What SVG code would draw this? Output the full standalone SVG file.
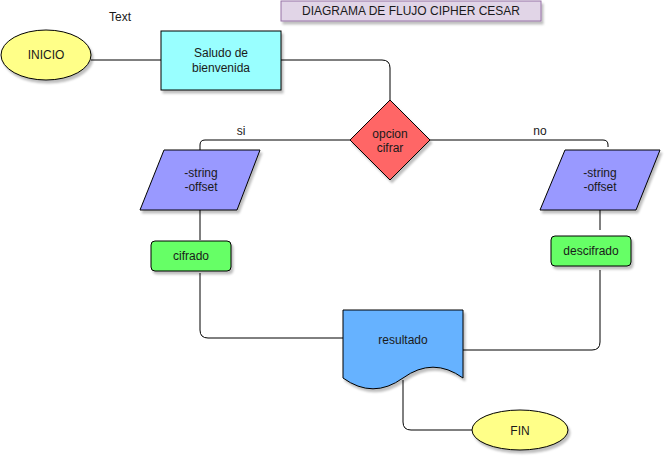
<svg xmlns="http://www.w3.org/2000/svg" width="672" height="462" viewBox="0 0 672 462">
<defs>
<filter id="sh" x="-20%" y="-20%" width="150%" height="150%">
<feDropShadow dx="2" dy="3" stdDeviation="1.2" flood-color="#000" flood-opacity="0.25"/>
</filter>
<style>
text{font-family:"Liberation Sans",Arial,Helvetica,sans-serif;font-size:12px;fill:#1a1a1a;text-anchor:middle;dominant-baseline:central}
.s{stroke:#000;stroke-width:1;filter:url(#sh)}
.c{fill:none;stroke:#000;stroke-width:1}
</style>
</defs>
<rect width="672" height="462" fill="#fff"/>
<g id="connectors">
<path class="c" d="M91,60 H161"/>
<path class="c" d="M281,60 H382 Q390,60 390,68 V100"/>
<path class="c" d="M350,140 H205 Q200,140 200,145 V150"/>
<path class="c" d="M430,140 H603 Q608,140 608,145 V147"/>
<path class="c" d="M200,210 V240"/>
<path class="c" d="M600,210 V230"/>
<path class="c" d="M200,273 V330 Q200,338 208,338 H346"/>
<path class="c" d="M600,270 V342 Q600,350 592,350 H460"/>
<path class="c" d="M403,380 V422 Q403,430 411,430 H472"/>
<text x="241" y="131">si</text>
<text x="540" y="131">no</text>
</g>
<g id="label-text"><text x="120" y="17">Text</text></g>
<g id="title">
<rect class="s" x="281" y="1" width="260" height="20" fill="#e1d5e7" stroke="#9673a6" style="stroke:#9673a6"/>
<text x="411" y="11">DIAGRAMA DE FLUJO CIPHER CESAR</text>
</g>
<g id="inicio">
<ellipse class="s" cx="46" cy="55" rx="45" ry="25" fill="#ffff88"/>
<text x="46" y="55">INICIO</text>
</g>
<g id="saludo">
<rect class="s" x="161" y="31" width="120" height="59" fill="#99ffff"/>
<text x="221" y="53">Saludo de</text>
<text x="221" y="68">bienvenida</text>
</g>
<g id="opcion">
<polygon class="s" points="390,100 430,140 390,180 350,140" fill="#ff6666"/>
<text x="390" y="134">opcion</text>
<text x="390" y="148">cifrar</text>
</g>
<g id="input-si">
<polygon class="s" points="164,150 260,150 237,210 140,210" fill="#9999ff"/>
<text x="201" y="173">-string</text>
<text x="201" y="187">-offset</text>
</g>
<g id="input-no">
<polygon class="s" points="565,150 660,150 636,210 540,210" fill="#9999ff"/>
<text x="600" y="173">-string</text>
<text x="600" y="187">-offset</text>
</g>
<g id="cifrado">
<rect class="s" x="151" y="241" width="80" height="30" rx="4" fill="#66ff66"/>
<text x="191" y="256">cifrado</text>
</g>
<g id="descifrado">
<rect class="s" x="551" y="236" width="80" height="30" rx="4" fill="#66ff66"/>
<text x="591" y="251">descifrado</text>
</g>
<g id="resultado">
<path class="s" d="M343,310 H463 V378 Q433,356.4 403,378 Q373,399.6 343,378 Z" fill="#66b2ff"/>
<text x="403" y="340">resultado</text>
</g>
<g id="fin">
<ellipse class="s" cx="520" cy="430" rx="48" ry="20" fill="#ffff88"/>
<text x="520" y="431">FIN</text>
</g>
</svg>
